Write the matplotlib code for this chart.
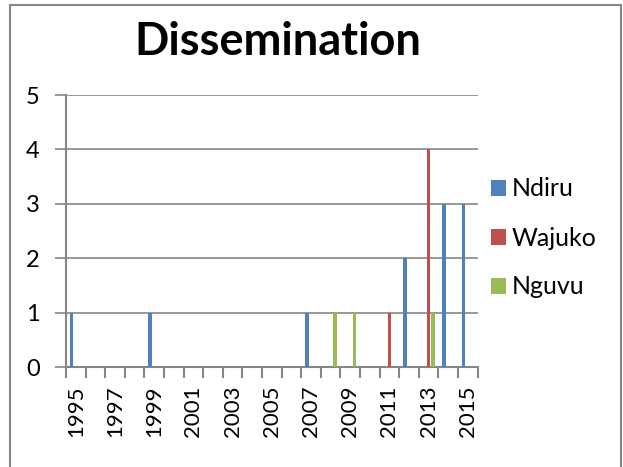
import numpy as np
import matplotlib
matplotlib.use("Agg")
import matplotlib.pyplot as plt
from matplotlib.patches import Rectangle, Patch

plt.rcParams['font.family'] = ['Lato', 'DejaVu Sans']

years = list(range(1995, 2016))
ndiru = [1, 0, 0, 0, 1, 0, 0, 0, 0, 0, 0, 0, 1, 0, 0, 0, 0, 2, 0, 3, 3]
wajuko = [0, 0, 0, 0, 0, 0, 0, 0, 0, 0, 0, 0, 0, 0, 0, 0, 1, 0, 4, 0, 0]
nguvu = [0, 0, 0, 0, 0, 0, 0, 0, 0, 0, 0, 0, 0, 1, 1, 0, 0, 0, 1, 0, 0]
series = ["Ndiru", "Wajuko", "Nguvu"]
colors = ["#4F81BD", "#C0504D", "#9BBB59"]

W, H = 623, 467
fig = plt.figure(figsize=(W / 100, H / 100), dpi=100)
ax = fig.add_axes([66 / W, 1 - 367 / H, (477.7 - 66) / W, (367 - 95) / H])

x = np.arange(len(years))
bw = 0.18
off = 0.215
for i, (vals, c) in enumerate(zip([ndiru, wajuko, nguvu], colors)):
    ax.bar(x + (i - 1) * off, vals, width=bw, color=c, zorder=3)

ax.set_xlim(-0.5, len(years) - 0.5)
ax.set_ylim(0, 5)
ax.set_yticks(range(0, 6))
ax.yaxis.grid(True, color="#868686", linewidth=1.2, zorder=0)

grid_c = "#868686"
for s in ["top", "right"]:
    ax.spines[s].set_visible(False)
for s in ["left", "bottom"]:
    ax.spines[s].set_color(grid_c)
    ax.spines[s].set_linewidth(1.5)

# year labels every 2 years, tick marks between every category
ax.set_xticks(x[::2])
ax.set_xticklabels([str(y) for y in years[::2]], rotation=90, fontsize=16)
ax.set_xticks(np.arange(-0.5, len(years), 1), minor=True)
ax.tick_params(axis="x", which="major", length=0, pad=13)
ax.tick_params(axis="x", which="minor", length=8, width=1.5, color=grid_c)
ax.tick_params(axis="y", length=8, width=1.2, color=grid_c, pad=11, labelsize=17)

fig.text(278 / W, 1 - 42 / H, "Dissemination", ha="center", va="center",
         fontsize=32.5, fontweight="bold")

handles = [Patch(facecolor=c, label=s) for s, c in zip(series, colors)]
fig.legend(handles=handles, loc="center left", bbox_to_anchor=(478 / W, 1 - 238 / H),
           frameon=False, fontsize=18, labelspacing=1.04, handlelength=0.6,
           handleheight=0.6, handletextpad=0.24, borderpad=0)

# chart border (bottom edge runs off the picture)
fig.patches.append(Rectangle((10 / W, -0.05), (611 / W), 1.05 - 5 / H,
                             transform=fig.transFigure, fill=False,
                             edgecolor=grid_c, linewidth=1.5))

fig.savefig("out.png", dpi=100)
